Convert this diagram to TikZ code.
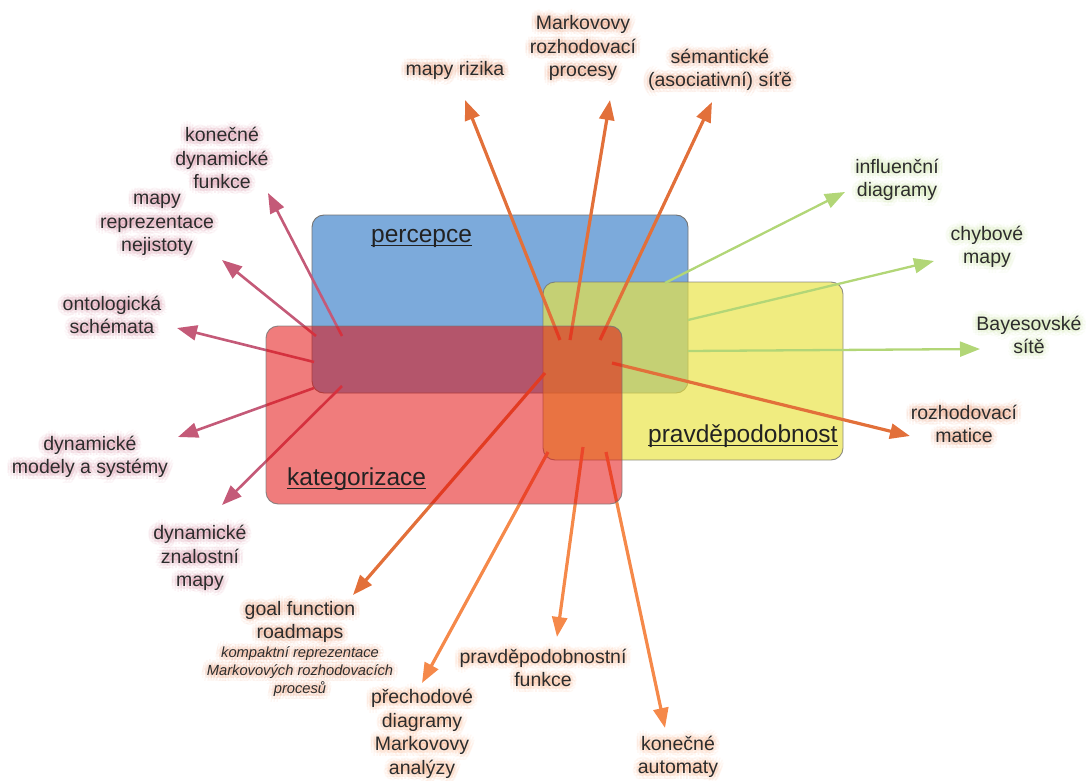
\documentclass[tikz,border=0pt]{standalone}
\usepackage{fontspec}
\setmainfont{Liberation Sans}
\usetikzlibrary{arrows.meta}

\definecolor{txt}{HTML}{2C2C2C}
\definecolor{setname}{HTML}{222222}
\definecolor{bluefill}{RGB}{124,170,219}
\definecolor{yelfill}{RGB}{233,227,66}
\definecolor{redfill}{RGB}{227,16,16}
\definecolor{oraDark}{HTML}{E2703A}
\definecolor{oraLight}{HTML}{F5894A}
\definecolor{pinkline}{HTML}{C45A78}
\definecolor{greenline}{HTML}{B2D677}

% a label with a soft coloured halo round its text:
% [style] {name} {position} {halo colour} {text}
\newcommand\glowlabel[5][lbl]{%
  \foreach \ang in {0,30,...,330}{%
    \foreach \rad in {3,6}{%
      \node[#1, text=#4, text opacity=0.06] at ([shift={(\ang:\rad)}]#3) {#5};%
    }}%
  \node[#1] (#2) at (#3) {#5};%
}

\begin{document}
\begin{tikzpicture}[x=1pt,y=-1pt,
  setbox/.style={rounded corners=12pt, draw=black!55, line width=0.9pt},
  lbl/.style={align=center, text=txt, font=\fontsize{19.5}{23.5}\selectfont, inner sep=1pt},
  note/.style={align=center, text=txt, font=\fontsize{14.7}{18}\selectfont\itshape, inner sep=1pt},
  settitle/.style={text=setname, font=\fontsize{24.5}{29}\selectfont, anchor=base west, inner sep=0pt},
  uline/.style={draw=setname, line width=1.1pt},
  tip/.style={-{Triangle[length=20pt,width=15pt]}},
  pinkarrow/.style={tip, draw=pinkline, line width=2.6pt},
  darkarrow/.style={tip, draw=oraDark, line width=3.2pt},
  lightarrow/.style={tip, draw=oraLight, line width=3.2pt},
  greenarrow/.style={tip, draw=greenline, line width=2.3pt},
]
\useasboundingbox (0,0) rectangle (1086,781);

% the perception and probability sets
\draw[setbox, fill=bluefill] (312,215) rectangle (688,393);
\draw[setbox, fill=yelfill, fill opacity=0.67, draw opacity=0.8] (543,282) rectangle (843,460);

% connector end points
\coordinate (s-kdf) at (342,336);  \coordinate (t-kdf) at (268,193);
\coordinate (s-mrn) at (316,336);  \coordinate (t-mrn) at (222,260);
\coordinate (s-ont) at (314,362);  \coordinate (t-ont) at (177,328);
\coordinate (s-dms) at (314,388);  \coordinate (t-dms) at (178,437);
\coordinate (s-dzm) at (342,386);  \coordinate (t-dzm) at (222,505);

\coordinate (s-riz) at (560,340);  \coordinate (t-riz) at (465,100);
\coordinate (s-mrp) at (570,340);  \coordinate (t-mrp) at (610,100);
\coordinate (s-sem) at (600,340);  \coordinate (t-sem) at (712,102);
\coordinate (s-roz) at (612,363);  \coordinate (t-roz) at (910,436);
\coordinate (s-goal) at (545,373); \coordinate (t-goal) at (353,595);
\coordinate (s-pre) at (548,452);  \coordinate (t-pre) at (422,683);
\coordinate (s-ppf) at (583,447);  \coordinate (t-ppf) at (557,637);
\coordinate (s-ka) at (606,452);   \coordinate (t-ka) at (665,728);

\coordinate (s-inf) at (665,283);  \coordinate (t-inf) at (845,192);
\coordinate (s-chy) at (688,320);  \coordinate (t-chy) at (934,261);
\coordinate (s-bay) at (688,351);  \coordinate (t-bay) at (980,349);

% connectors (they pass under the categorisation set)
\draw[pinkarrow] (s-kdf) -- (t-kdf);
\draw[pinkarrow] (s-mrn) -- (t-mrn);
\draw[pinkarrow] (s-ont) -- (t-ont);
\draw[pinkarrow] (s-dms) -- (t-dms);
\draw[pinkarrow] (s-dzm) -- (t-dzm);

\draw[darkarrow] (s-riz) -- (t-riz);
\draw[darkarrow] (s-mrp) -- (t-mrp);
\draw[darkarrow] (s-sem) -- (t-sem);
\draw[darkarrow] (s-roz) -- (t-roz);
\draw[darkarrow] (s-goal) -- (t-goal);
\draw[lightarrow] (s-pre) -- (t-pre);
\draw[lightarrow] (s-ppf) -- (t-ppf);
\draw[lightarrow] (s-ka) -- (t-ka);

\draw[greenarrow] (s-inf) -- (t-inf);
\draw[greenarrow] (s-chy) -- (t-chy);
\draw[greenarrow] (s-bay) -- (t-bay);

% categorisation set on top
\draw[setbox, fill=redfill, fill opacity=0.55, draw opacity=0.8] (266,326) rectangle (622,504);

% set titles
\node[settitle] (perc) at (371,242) {percepce};
\node[settitle] (kat) at (287,485) {kategorizace};
\node[settitle] (prav) at (648,442) {pravděpodobnost};
\foreach \n in {perc,kat,prav}
  \draw[uline] ([yshift=-3.5pt]\n.base west) -- ([yshift=-3.5pt]\n.base east);

% labels
\glowlabel{riz}{455,70}{oraDark}{mapy rizika}
\glowlabel{mrp}{583,48}{oraDark}{Markovovy\\rozhodovací\\procesy}
\glowlabel{sem}{720,70}{oraDark}{sémantické\\(asociativní) síťě}
\glowlabel{inf}{897,180}{greenline}{influenční\\diagramy}
\glowlabel{chy}{987,247}{greenline}{chybové\\mapy}
\glowlabel{bay}{1029,335}{greenline}{Bayesovské\\sítě}
\glowlabel{roz}{964,424}{oraDark}{rozhodovací\\matice}
\glowlabel{ka}{678,757}{oraLight}{konečné\\automaty}
\glowlabel{ppf}{543,668}{oraLight}{pravděpodobnostní\\funkce}
\glowlabel{pre}{422,734}{oraLight}{přechodové\\diagramy\\Markovovy\\analýzy}
\glowlabel{goal}{300,622}{oraDark}{goal function\\roadmaps}
\glowlabel[note]{goalnote}{300,672}{oraDark}{kompaktní reprezentace\\Markovových rozhodovacích\\procesů}
\glowlabel{dzm}{200,558}{pinkline}{dynamické\\znalostní\\mapy}
\glowlabel{dms}{90,457}{pinkline}{dynamické\\modely a systémy}
\glowlabel{ont}{112,315}{pinkline}{ontologická\\schémata}
\glowlabel{mrn}{157,225}{pinkline}{mapy\\reprezentace\\nejistoty}
\glowlabel{kdf}{222,158}{pinkline}{konečné\\dynamické\\funkce}
\end{tikzpicture}
\end{document}
